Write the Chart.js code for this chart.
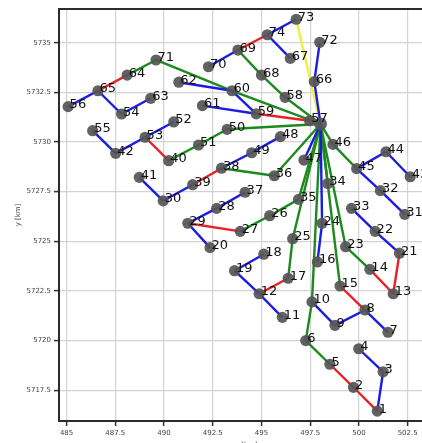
<!DOCTYPE html>
<html><head><meta charset="utf-8">
<script src="https://cdn.jsdelivr.net/npm/chart.js@4.4.1/dist/chart.umd.min.js"></script>
<style>html,body{margin:0;padding:0;background:#fff;overflow:hidden;}#wrap{position:absolute;left:0;top:0;width:440px;height:460px;}</style>
</head><body><div id="wrap"><canvas id="c" width="440" height="460"></canvas></div>
<script>
// Node identifiers ('S' = unlabeled hub next to node 57)
const nodeIds = ['1','2','3','4','5','6','7','8','9','10','11','12','13','14','15','16','17','18','19','20',
 '21','22','23','24','25','26','27','28','29','30','31','32','33','34','35','36','37','38','39','40',
 '41','42','43','44','45','46','47','48','49','50','51','52','53','54','55','56','57','58','59','60',
 '61','62','63','64','65','66','67','68','69','70','71','72','73','74','S'];
// x [km]
const nodeX = [500.94,499.72,501.24,499.99,498.51,497.27,501.49,500.31,498.77,497.59,496.07,494.88,501.76,500.56,499.03,497.87,496.37,495.12,493.62,492.36,
 502.08,500.83,499.32,498.11,496.60,495.42,493.91,492.70,491.22,489.96,502.35,501.10,499.62,498.40,496.90,495.66,494.16,492.95,491.47,490.24,
 488.73,487.52,502.63,501.39,499.88,498.67,497.18,495.97,494.50,493.24,491.77,490.50,489.03,487.82,486.34,485.08,497.47,496.21,494.73,493.49,
 491.97,490.76,489.32,488.11,486.61,497.71,496.48,495.00,493.79,492.28,489.59,497.99,496.78,495.30,498.03];
// y [km]
const nodeY = [5716.45,5717.65,5718.43,5719.59,5718.81,5720.00,5720.42,5721.54,5720.77,5721.95,5721.17,5722.36,5722.36,5723.59,5722.75,5723.96,5723.14,5724.35,5723.52,5724.68,
 5724.40,5725.50,5724.73,5725.91,5725.13,5726.29,5725.50,5726.66,5725.91,5727.04,5726.36,5727.55,5726.66,5727.91,5727.11,5728.30,5727.47,5728.68,5727.85,5729.06,
 5728.22,5729.43,5728.25,5729.51,5728.66,5729.88,5729.09,5730.27,5729.46,5730.64,5729.85,5731.01,5730.24,5731.41,5730.57,5731.78,5731.07,5732.25,5731.42,5732.58,
 5731.83,5733.01,5732.20,5733.37,5732.58,5733.04,5734.21,5733.37,5734.63,5733.79,5734.13,5735.02,5736.18,5735.40,5730.91];

// Edges (from, to, kind)
const edgeFrom = ['1','2','8','13','13','12','27','38','40','64','69','57',
 '1','3','7','8','9','11','12','18','20','28','28','21','22','31','32','44','43','16','24','47','30','30','38','48','42','42','52','56','54','54','60','59','59','69','73','67','66','S',
 '5','6','10','17','25','26','26','35','36','36','34','23','14','15','45','46','40','50','50','64','60','60','58','58','68','57',
 'S'];
const edgeTo = ['2','5','15','14','21','17','29','39','53','65','74','59',
 '3','4','8','9','10','12','19','19','29','29','37','22','33','32','45','45','44','24','S','S','41','39','49','49','55','53','53','65','65','63','62','60','61','70','74','74','72','66',
 '6','10','S','25','S','35','27','S','38','S','S','S','23','S','46','S','51','51','S','71','71','S','S','68','69','S',
 '73'];
const edgeKind = ['r','r','r','r','r','r','r','r','r','r','r','r',
 'b','b','b','b','b','b','b','b','b','b','b','b','b','b','b','b','b','b','b','b','b','b','b','b','b','b','b','b','b','b','b','b','b','b','b','b','b','b',
 'g','g','g','g','g','g','g','g','g','g','g','g','g','g','g','g','g','g','g','g','g','g','g','g','g','g',
 'y'];

const xTicks = [485, 487.5, 490, 492.5, 495, 497.5, 500, 502.5];
const yTicks = [5717.5, 5720, 5722.5, 5725, 5727.5, 5730, 5732.5, 5735];

const kindColor = {r:'#e62228', b:'#1c1ce0', g:'#1d8a1d', y:'#f0f03a'};
const idx = id => nodeIds.indexOf(id);

const datasets = [];
edgeFrom.forEach((f, k) => {
  const a = idx(f), b = idx(edgeTo[k]);
  datasets.push({
    type:'scatter', showLine:true, order:2,
    data:[{x:nodeX[a], y:nodeY[a]}, {x:nodeX[b], y:nodeY[b]}],
    borderColor: kindColor[edgeKind[k]], borderWidth:2.4,
    pointRadius:0, pointHoverRadius:0
  });
});
datasets.push({
  type:'scatter', order:1,
  data: nodeIds.map((id,i)=>({x:nodeX[i], y:nodeY[i]})),
  pointRadius: nodeIds.map(id => id==='S' ? 6.5 : 5.6),
  pointBackgroundColor:'rgba(85,85,85,0.92)',
  pointBorderColor:'rgba(85,85,85,0.92)',
  pointBorderWidth:0
});

const overlay = {
  id:'overlay',
  afterDatasetsDraw(chart){
    const {ctx, scales:{x, y}} = chart;
    ctx.save();
    ctx.font = '13px "DejaVu Sans"';
    ctx.fillStyle = '#111';
    ctx.textAlign = 'left';
    ctx.textBaseline = 'alphabetic';
    nodeIds.forEach((id,i) => {
      if (id === 'S') return;
      ctx.fillText(id, x.getPixelForValue(nodeX[i]) + 1.5, y.getPixelForValue(nodeY[i]) + 1.5);
    });
    ctx.restore();
  },
  afterDraw(chart){
    const {ctx, chartArea:a} = chart;
    ctx.save();
    ctx.strokeStyle = '#2b2b2b';
    ctx.lineWidth = 2;
    ctx.strokeRect(a.left, a.top, a.right - a.left, a.bottom - a.top);
    ctx.restore();
  }
};

const tickFont = {family:'DejaVu Sans', size:7};
new Chart(document.getElementById('c'), {
  type:'scatter',
  data:{datasets},
  options:{
    responsive:false, animation:false,
    layout:{padding:{top:9, left:0, right:0, bottom:0}},
    plugins:{legend:{display:false}, tooltip:{enabled:false}},
    events:[],
    scales:{
      x:{
        type:'linear', position:'bottom', min:484.612, max:503.825,
        afterFit: s => { s.height = 39; },
        afterBuildTicks: s => { s.ticks = xTicks.map(v => ({value:v})); },
        ticks:{font:tickFont, color:'#444', padding:3, maxRotation:0, autoSkip:false, callback: v => String(v)},
        grid:{color:'#d2d2d2', lineWidth:1.2, tickLength:5, tickColor:'#333', tickWidth:1.5},
        border:{display:false},
        title:{display:true, text:'x [km]', font:tickFont, color:'#444', padding:{top:0, bottom:10.8}}
      },
      y:{
        type:'linear', position:'left', min:5715.952, max:5736.697,
        afterFit: s => { s.width = 59; },
        afterBuildTicks: s => { s.ticks = yTicks.map(v => ({value:v})); },
        ticks:{font:tickFont, color:'#444', padding:3, autoSkip:false, callback: v => String(v)},
        grid:{color:'#d2d2d2', lineWidth:1.2, tickLength:5, tickColor:'#333', tickWidth:1.5},
        border:{display:false},
        title:{display:true, text:'y [km]', font:tickFont, color:'#444', padding:{top:13.5, bottom:0}}
      }
    }
  },
  plugins:[overlay]
});
</script></body></html>
